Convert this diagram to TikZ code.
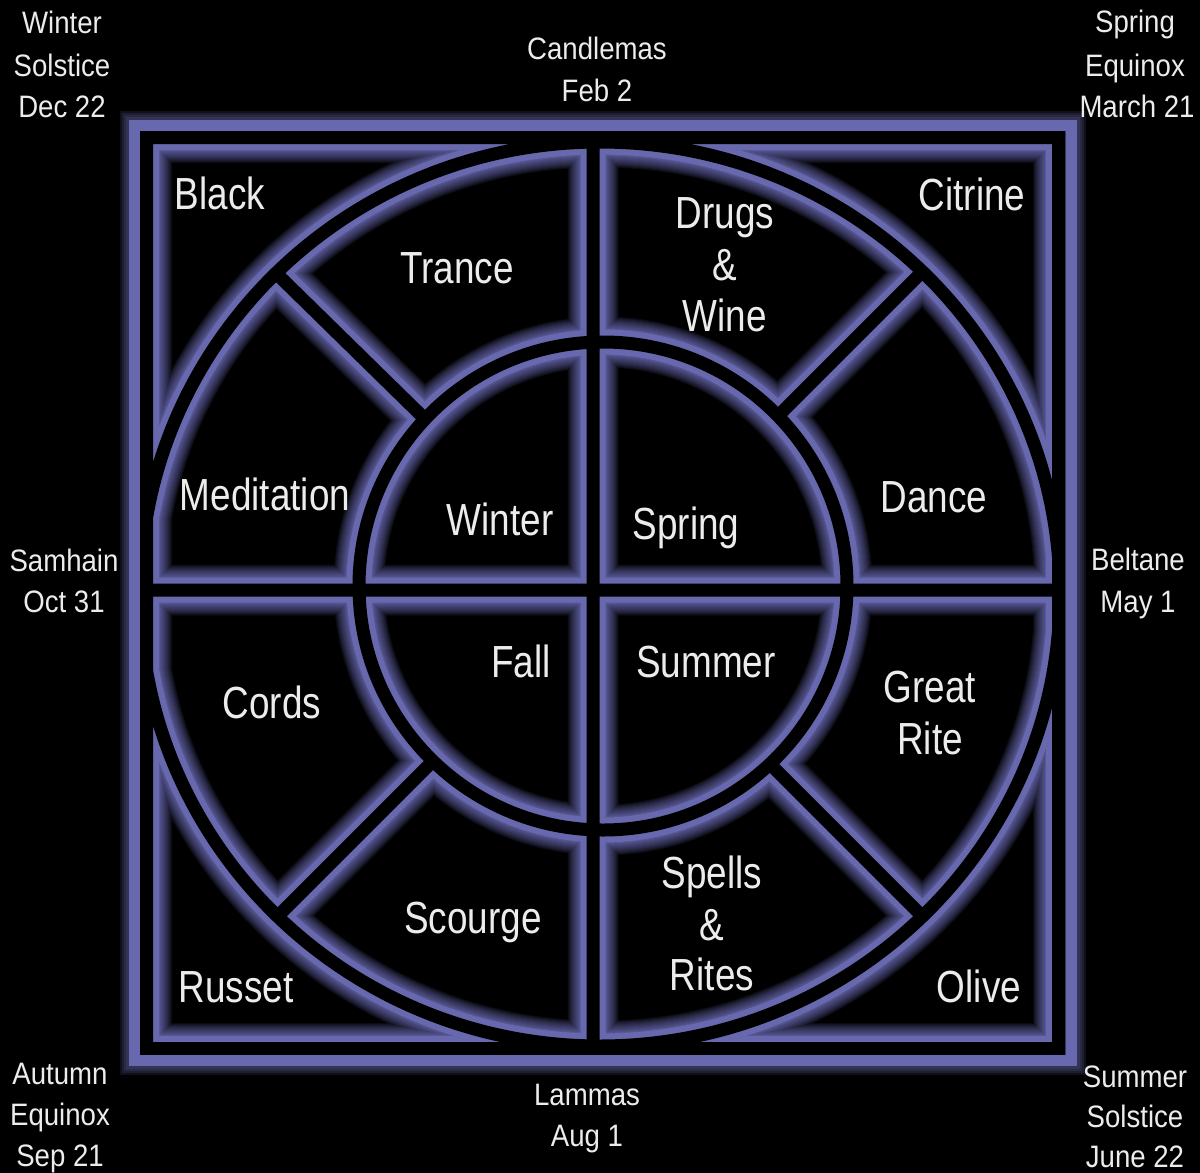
\documentclass[tikz,border=0pt]{standalone}
\usepackage{fontspec}
\setmainfont{Liberation Sans}
\newfontfamily\bigf{Liberation Sans}[FakeStretch=0.82]
\newfontfamily\smallf{Liberation Sans}[FakeStretch=0.89]
\definecolor{pur}{RGB}{104,104,174}
\definecolor{txt}{RGB}{236,236,236}
\tikzset{
  big/.style={text=txt, font=\bigf\fontsize{45}{51}\selectfont, anchor=base, inner sep=0pt},
  small/.style={text=txt, font=\smallf\fontsize{31}{42}\selectfont, anchor=base, inner sep=0pt},
}
\begin{document}
\begin{tikzpicture}[x=1pt,y=-1pt]
\useasboundingbox (0,0) rectangle (1200,1173);
\fill[black] (0,0) rectangle (1200,1173);
% outer frame glow
\foreach \w in {29,25,21,17}{
  \draw[pur, line width=\w pt, opacity=0.16] (134,125) rectangle (1071,1060.5);
}
% structure: glow layers then black core
\begin{scope}
\clip (140,131) rectangle (1065,1055);
\foreach \w/\o/\c in {51/0.1/pur, 49/0.1/pur, 47/0.1/pur, 45/0.1/pur, 43/0.1/pur,
                     41/0.1/pur, 39/0.1/pur, 37/0.12/pur, 35/0.12/pur, 33/0.14/pur,
                     31/0.16/pur, 29/0.2/pur, 27/0.3/pur, 25/1/pur, 13/1/black}{
  \draw[\c, line width=\w pt, opacity=\o]
    (146.5,137.5) rectangle (1058.5,1048.5)
    (593,137.5) -- (593,1048.5)
    (146.5,590) -- (1058.5,590)
    (600,594) ellipse [x radius=460pt, y radius=452pt]
    (603,586) circle [radius=244pt]
    (425.3,419.3) -- (279.6,276.6)
    (778.2,415.8) -- (920.4,273.6)
    (433.1,760.9) -- (279.6,914.4)
    (769.7,763.7) -- (920.4,914.4);
}
\end{scope}
% outer frame
\draw[pur, line width=11pt] (134,125) rectangle (1071,1060.5);

% big labels
\node[big] (black) at (220,209) {Black};
\node[big] (trance) at (457,283) {Trance};
\node[big] (drugsA) at (725,228) {Drugs};
\node[big] (drugsB) at (725,280) {\&};
\node[big] (drugsC) at (725,331) {Wine};
\node[big] (citrine) at (972,210) {Citrine};
\node[big] (medit) at (265,510) {Meditation};
\node[big] (winter) at (500,535) {Winter};
\node[big] (spring) at (686,539) {Spring};
\node[big] (dance) at (934,512) {Dance};
\node[big] (fall) at (521,677) {Fall};
\node[big] (summer) at (706,677) {Summer};
\node[big] (cords) at (272,718) {Cords};
\node[big] (greatA) at (930,702) {Great};
\node[big] (greatB) at (930,754) {Rite};
\node[big] (scourge) at (473,933) {Scourge};
\node[big] (spellsA) at (712,888) {Spells};
\node[big] (spellsB) at (712,940) {\&};
\node[big] (spellsC) at (712,990) {Rites};
\node[big] (russet) at (236,1002) {Russet};
\node[big] (olive) at (979,1002) {Olive};

% small labels
\node[small] (wsA) at (62,33) {Winter};
\node[small] (wsB) at (62,76) {Solstice};
\node[small] (wsC) at (62,117) {Dec 22};
\node[small] (candA) at (597,59) {Candlemas};
\node[small] (candB) at (597,101) {Feb 2};
\node[small] (seA) at (1135,32) {Spring};
\node[small] (seB) at (1135,76) {Equinox};
\node[small] (seC) at (1137,117) {March 21};
\node[small] (samA) at (64,571) {Samhain};
\node[small] (samB) at (64,612) {Oct 31};
\node[small] (belA) at (1138,570) {Beltane};
\node[small] (belB) at (1138,612) {May 1};
\node[small] (aeA) at (60,1084) {Autumn};
\node[small] (aeB) at (60,1125) {Equinox};
\node[small] (aeC) at (60,1166) {Sep 21};
\node[small] (lamA) at (587,1105) {Lammas};
\node[small] (lamB) at (587,1146) {Aug 1};
\node[small] (ssA) at (1135,1087) {Summer};
\node[small] (ssB) at (1135,1127) {Solstice};
\node[small] (ssC) at (1135,1167) {June 22};
\end{tikzpicture}
\end{document}
